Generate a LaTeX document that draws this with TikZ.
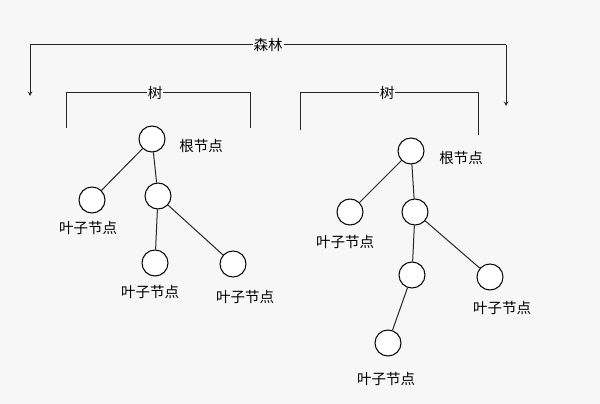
\documentclass[tikz,border=0pt]{standalone}
\usepackage{fontspec}
\newfontfamily\cjk{Noto Sans CJK SC}
\begin{document}
\begin{tikzpicture}[x=1pt,y=-1pt,
  nd/.style={circle,draw,minimum size=26pt,inner sep=0pt,fill=white,line width=1pt},
  lbl/.style={font=\cjk\fontsize{14.5}{16}\selectfont,inner sep=1pt},
  ln/.style={line width=1pt,draw=black!85}]
\fill[black!3] (0,0) rectangle (600,404);
\useasboundingbox (0,0) rectangle (600,404);
% forest bracket
\coordinate (fl) at (30,45); \coordinate (fr) at (506,45);
\coordinate (fld) at (30,96); \coordinate (frd) at (506,106);
\draw[ln] (fl) -- (fr);
\draw[ln,-stealth] (fl) -- (fld);
\draw[ln,-stealth] (fr) -- (frd);
\node[lbl,fill=black!3] (forest) at (268,45) {森林};
% tree brackets
\coordinate (a1) at (66,128); \coordinate (a2) at (66,93); \coordinate (a3) at (250,93); \coordinate (a4) at (250,128);
\draw[ln] (a1) -- (a2) -- (a3) -- (a4);
\node[lbl,fill=black!3] (t1) at (155,93) {树};
\coordinate (b1) at (300,130); \coordinate (b2) at (300,93); \coordinate (b3) at (478,93); \coordinate (b4) at (478,135);
\draw[ln] (b1) -- (b2) -- (b3) -- (b4);
\node[lbl,fill=black!3] (t2) at (387,93) {树};
% left tree
\node[nd] (r1) at (152,139) {};
\node[nd] (l1) at (92,200) {};
\node[nd] (m1) at (158,196) {};
\node[nd] (l2) at (155,263) {};
\node[nd] (l3) at (233,264) {};
\draw[ln] (r1) -- (l1); \draw[ln] (r1) -- (m1);
\draw[ln] (m1) -- (l2); \draw[ln] (m1) -- (l3);
\node[lbl] at (201,146) {根节点};
\node[lbl] at (88,228) {叶子节点};
\node[lbl] at (150,292) {叶子节点};
\node[lbl] at (245,297) {叶子节点};
% right tree
\node[nd] (r2) at (411,151) {};
\node[nd] (k1) at (350,212) {};
\node[nd] (n1) at (415,212) {};
\node[nd] (n2) at (412,275) {};
\node[nd] (k2) at (490,277) {};
\node[nd] (k3) at (388,343) {};
\draw[ln] (r2) -- (k1); \draw[ln] (r2) -- (n1);
\draw[ln] (n1) -- (n2); \draw[ln] (n1) -- (k2);
\draw[ln] (n2) -- (k3);
\node[lbl] at (461,158) {根节点};
\node[lbl] at (345,242) {叶子节点};
\node[lbl] at (502,308) {叶子节点};
\node[lbl] at (386,379) {叶子节点};
\end{tikzpicture}
\end{document}
